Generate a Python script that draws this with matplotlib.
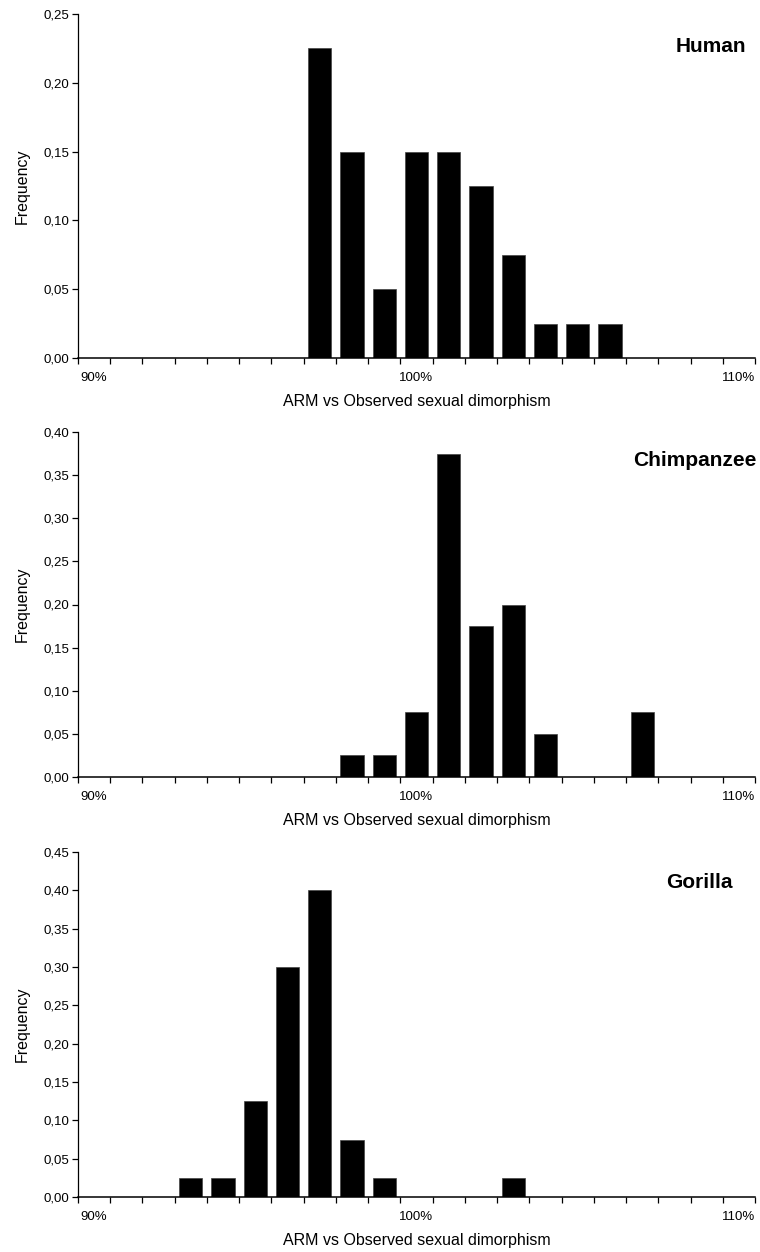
import matplotlib.pyplot as plt
from matplotlib.ticker import FixedLocator, FuncFormatter

plt.rcParams["font.family"] = ["Liberation Sans", "DejaVu Sans"]

# categories: ARM / observed dimorphism, 90% .. 110% in 1% steps
categories = list(range(90, 111))

human = [0, 0, 0, 0, 0, 0, 0, 0.225, 0.15, 0.05, 0.15, 0.15, 0.125, 0.075,
         0.025, 0.025, 0.025, 0, 0, 0, 0]
chimpanzee = [0, 0, 0, 0, 0, 0, 0, 0, 0.025, 0.025, 0.075, 0.375, 0.175, 0.2,
              0.05, 0, 0, 0.075, 0, 0, 0]
gorilla = [0, 0, 0, 0.025, 0.025, 0.125, 0.3, 0.4, 0.075, 0.025, 0, 0, 0,
           0.025, 0, 0, 0, 0, 0, 0, 0]

species = ["Human", "Chimpanzee", "Gorilla"]
ymax = [0.25, 0.40, 0.45]
tick_labels = {0: "90%", 10: "100%", 20: "110%"}

W, H = 760, 1252
fig = plt.figure(figsize=(W / 100, H / 100), dpi=100)

# pixel boxes (top, bottom) of each plot area
boxes = [(14, 358), (432, 777), (852, 1197)]
# species label anchor (right x, centre y) in pixels
label_pos = [(746, 46), (757, 461), (733, 882)]

left_px, right_px = 78, 755
for values, name, top_y, (top, bottom), (lx, ly) in zip(
        [human, chimpanzee, gorilla], species, ymax, boxes, label_pos):
    ax = fig.add_axes([left_px / W, 1 - bottom / H,
                       (right_px - left_px) / W, (bottom - top) / H])
    x = range(len(categories))
    ax.bar(x, values, width=0.72, color="black", edgecolor="#444444",
           linewidth=0.5, zorder=2)

    ax.set_xlim(-0.5, len(categories) - 0.5)
    ax.set_ylim(0, top_y)

    ax.spines["top"].set_visible(False)
    ax.spines["right"].set_visible(False)
    ax.spines["left"].set_linewidth(0.9)
    ax.spines["bottom"].set_linewidth(1.1)

    # labels under category centres, tick marks at category boundaries
    ax.xaxis.set_major_locator(FixedLocator(list(tick_labels.keys())))
    ax.set_xticklabels(list(tick_labels.values()))
    ax.xaxis.set_minor_locator(FixedLocator([i - 0.5 for i in range(len(categories) + 1)]))
    ax.tick_params(axis="x", which="major", length=0, pad=10, labelsize=9.5)
    ax.tick_params(axis="x", which="minor", length=4, width=0.9, direction="out")

    n = int(round(top_y / 0.05))
    ax.set_yticks([i * 0.05 for i in range(n + 1)])
    ax.yaxis.set_major_formatter(FuncFormatter(lambda v, p: f"{v:.2f}".replace(".", ",")))
    ax.tick_params(axis="y", length=4, width=0.9, direction="out", pad=2, labelsize=9.5)

    ax.set_xlabel("ARM vs Observed sexual dimorphism", fontsize=11.5)
    ax.xaxis.set_label_coords(0.5, -0.105)
    ax.set_ylabel("Frequency", fontsize=11.5)
    ax.yaxis.set_label_coords(-0.072, 0.5)

    fig.text(lx / W, 1 - ly / H, name, ha="right", va="center",
             fontsize=15, fontweight="bold")

fig.savefig("out.png", dpi=100)
